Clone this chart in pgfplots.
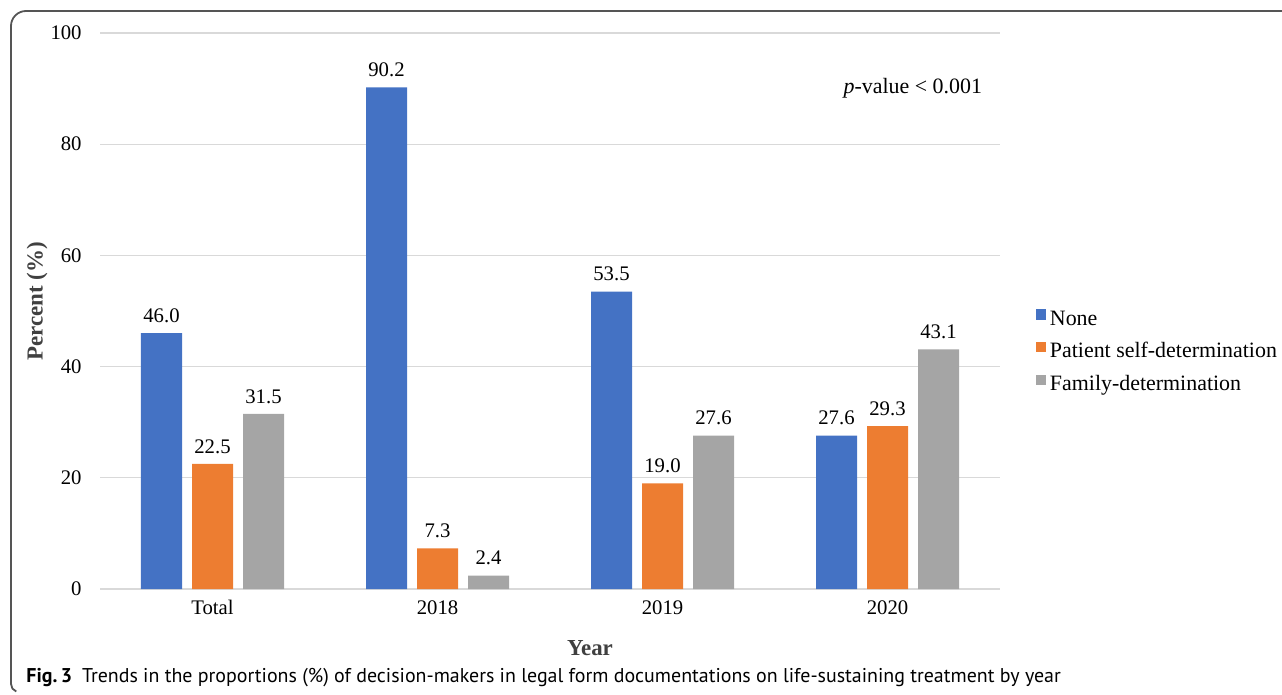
\documentclass[border=0pt]{standalone}
\usepackage{pgfplots}
\pgfplotsset{compat=1.18}
\usepackage{fontspec}
\setmainfont{Liberation Serif}
\newfontfamily\capfont{PT Sans}

\definecolor{cNone}{HTML}{4472C4}
\definecolor{cSelf}{HTML}{ED7D31}
\definecolor{cFam}{HTML}{A5A5A5}
\definecolor{cGrid}{HTML}{D9D9D9}
\definecolor{cFrame}{HTML}{555555}
\definecolor{cLabel}{HTML}{404040}

\begin{document}
\begin{tikzpicture}
\useasboundingbox (0,0) rectangle (641bp,-347.5bp);
\begin{axis}[
  at={(50bp,-294.5bp)}, anchor=south west,
  scale only axis, width=450bp, height=278bp,
  ybar=5bp, bar width=20.5bp,
  xmin=-0.5, xmax=3.5, ymin=0, ymax=100,
  xtick={0,1,2,3}, xticklabels={Total,2018,2019,2020},
  ytick={0,20,40,60,80,100},
  /pgf/number format/assume math mode=true,
  major tick length=0pt,
  axis line style={draw=none},
  ymajorgrids, grid style={cGrid, line width=0.6bp},
  tick label style={font=\fontsize{10.4}{12}\selectfont},
  yticklabel style={anchor=east, inner sep=0pt, xshift=-9bp},
  xticklabel style={anchor=north, inner sep=0pt, yshift=-5.5bp},
  xlabel={\fontsize{11.5}{13}\selectfont\bfseries Year},
  ylabel={\fontsize{11.5}{13}\selectfont\bfseries Percent (\%)},
  every axis x label/.style={at={(axis description cs:0.5444,-0.106)}, anchor=center, text=cLabel},
  every axis y label/.style={at={(axis description cs:-0.0700,0.517)}, rotate=90, anchor=center, text=cLabel},
  nodes near coords,
  nodes near coords style={font=\fontsize{10.4}{11}\selectfont, inner sep=0pt, anchor=south, yshift=5bp,
    /pgf/number format/.cd, fixed, fixed zerofill, precision=1, assume math mode=true},
  legend cell align=left,
  legend style={at={(rel axis cs:1.0333,0.511)}, anchor=north west, draw=none, fill=none,
    font=\fontsize{11}{12}\selectfont, row sep=7bp,
    nodes={inner sep=0pt, text height=7.5bp, text depth=1.5bp}},
  legend image code/.code={\fill[#1] (0bp,-0.3bp) rectangle (5bp,4.9bp); \path (6.8bp,0bp);},
]
\addplot[fill=cNone, draw=none] coordinates {(0,46.0) (1,90.2) (2,53.5) (3,27.6)};
\addlegendentry{None}
\addplot[fill=cSelf, draw=none] coordinates {(0,22.5) (1,7.3) (2,19.0) (3,29.3)};
\addlegendentry{Patient self-determination}
\addplot[fill=cFam, draw=none] coordinates {(0,31.5) (1,2.4) (2,27.6) (3,43.1)};
\addlegendentry{Family-determination}
\node[anchor=east, font=\fontsize{11}{12}\selectfont] at (rel axis cs:0.9878,0.901) {\textit{p}-value < 0.001};
\end{axis}
\draw[cFrame, line width=0.9bp] (641bp,-5.5bp) -- (13bp,-5.5bp) arc[start angle=90, end angle=180, radius=7.5bp]
  -- (5.5bp,-342bp) arc[start angle=180, end angle=250, radius=4bp];
\node[anchor=base west, inner sep=0pt, font=\capfont\fontsize{10}{11}\selectfont] at (13bp,-341bp)
  {\textbf{Fig.\,3}\enspace Trends in the proportions (\%) of decision-makers in legal form documentations on life-sustaining treatment by year};
\end{tikzpicture}
\end{document}
